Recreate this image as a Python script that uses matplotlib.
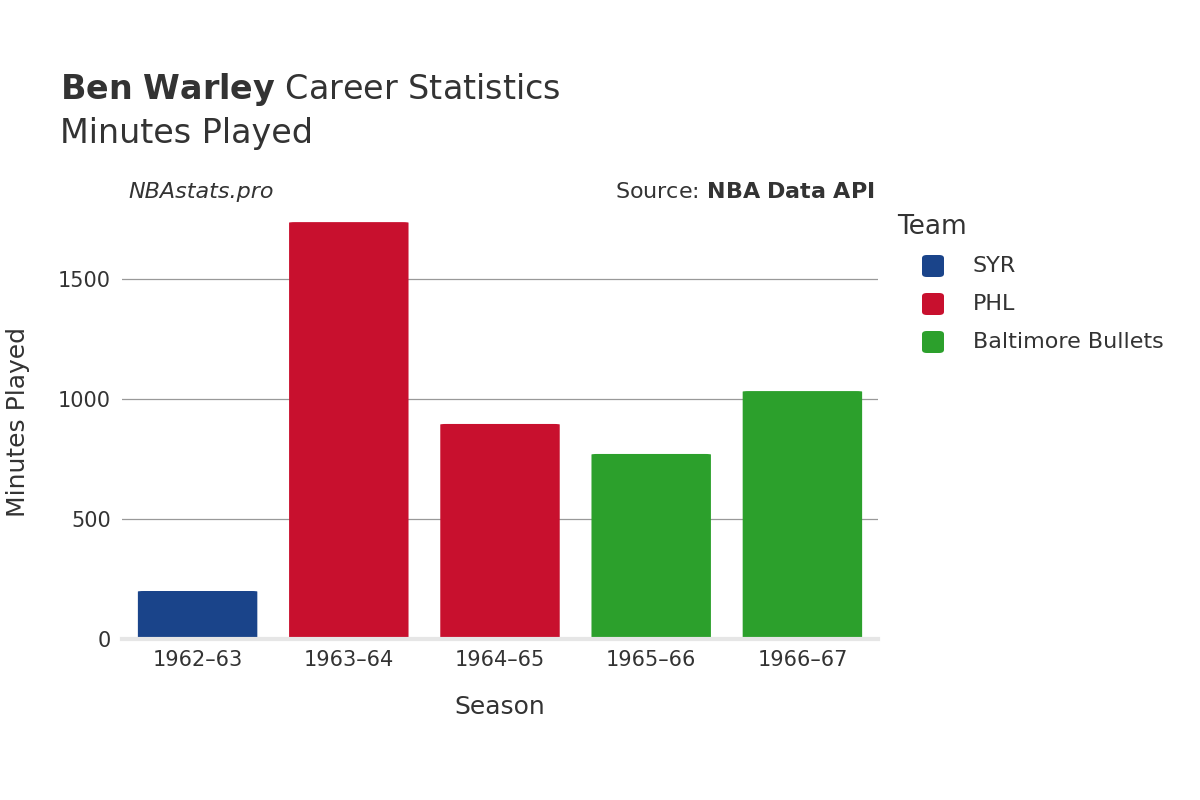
import matplotlib.pyplot as plt
from matplotlib.patches import FancyBboxPatch

seasons = ['1962–63', '1963–64', '1964–65', '1965–66', '1966–67']
syr = [200, 0, 0, 0, 0]
phl = [0, 1737, 896, 4, 0]
bal = [0, 0, 0, 767, 1033]
teams = ['SYR', 'PHL', 'Baltimore Bullets']
colors = ['#1a448a', '#c8102e', '#2ca02c']

fig = plt.figure(figsize=(12, 8), dpi=100)
ax = fig.add_axes([122 / 1200, 1 - 639 / 800, 756 / 1200, (639 - 205) / 800])
ax.set_ylim(0, 639 / 0.24 * 0 + (639 - 205) / 0.24)
ax.set_xlim(-0.5, 4.5)

w = 0.79
for i in range(len(seasons)):
    bottom = 0
    for vals, c in zip([syr, phl, bal], colors):
        v = vals[i]
        if v > 0:
            if v > 20:
                ax.add_patch(FancyBboxPatch((i - w / 2, bottom), w, v,
                                            boxstyle='round,pad=0,rounding_size=0.04',
                                            mutation_aspect=1 / 0.0024 * 0.0024 * 60,
                                            fc=c, ec='none', zorder=2))
            else:
                ax.bar(i, v, w, bottom=bottom, color=c, zorder=2)
            bottom += v

ax.set_yticks([0, 500, 1000, 1500])
ax.grid(axis='y', color='#999999', lw=0.9, zorder=0)
ax.set_axisbelow(True)
for s in ['top', 'right', 'left']:
    ax.spines[s].set_visible(False)
ax.spines['bottom'].set_color('#e6e6e6')
ax.spines['bottom'].set_linewidth(3)
ax.tick_params(length=0, labelsize=15, colors='#333333', pad=8)
ax.set_xticks(range(len(seasons)))
ax.set_xticklabels(seasons)
ax.set_xlabel('Season', fontsize=18, color='#333333', labelpad=18)
ax.set_ylabel('Minutes Played', fontsize=18, color='#333333', labelpad=20)

fig.text(60 / 1200, 1 - 90 / 800, r'$\bf{Ben\ Warley}$ Career Statistics', fontsize=24,
         color='#333333', va='center')
fig.text(60 / 1200, 1 - 133 / 800, 'Minutes Played', fontsize=24, color='#333333', va='center')
fig.text(128 / 1200, 1 - 192 / 800, 'NBAstats.pro', fontsize=16, style='italic',
         color='#333333', va='center')
fig.text(875 / 1200, 1 - 192 / 800, r'Source: $\bf{NBA\ Data\ API}$', fontsize=16,
         color='#333333', va='center', ha='right')

fig.text(897 / 1200, 1 - 227 / 800, 'Team', fontsize=19, color='#333333', va='center')
for k, (t, c) in enumerate(zip(teams, colors)):
    y = 266 + 38 * k
    fig.patches.append(FancyBboxPatch((922 / 1200, 1 - (y + 11) / 800), 22 / 1200, 22 / 800,
                                      boxstyle='round,pad=0,rounding_size=0.004',
                                      transform=fig.transFigure, fc=c, ec='none'))
    fig.text(973 / 1200, 1 - y / 800, t, fontsize=16, color='#333333', va='center')

fig.savefig('out.png')
